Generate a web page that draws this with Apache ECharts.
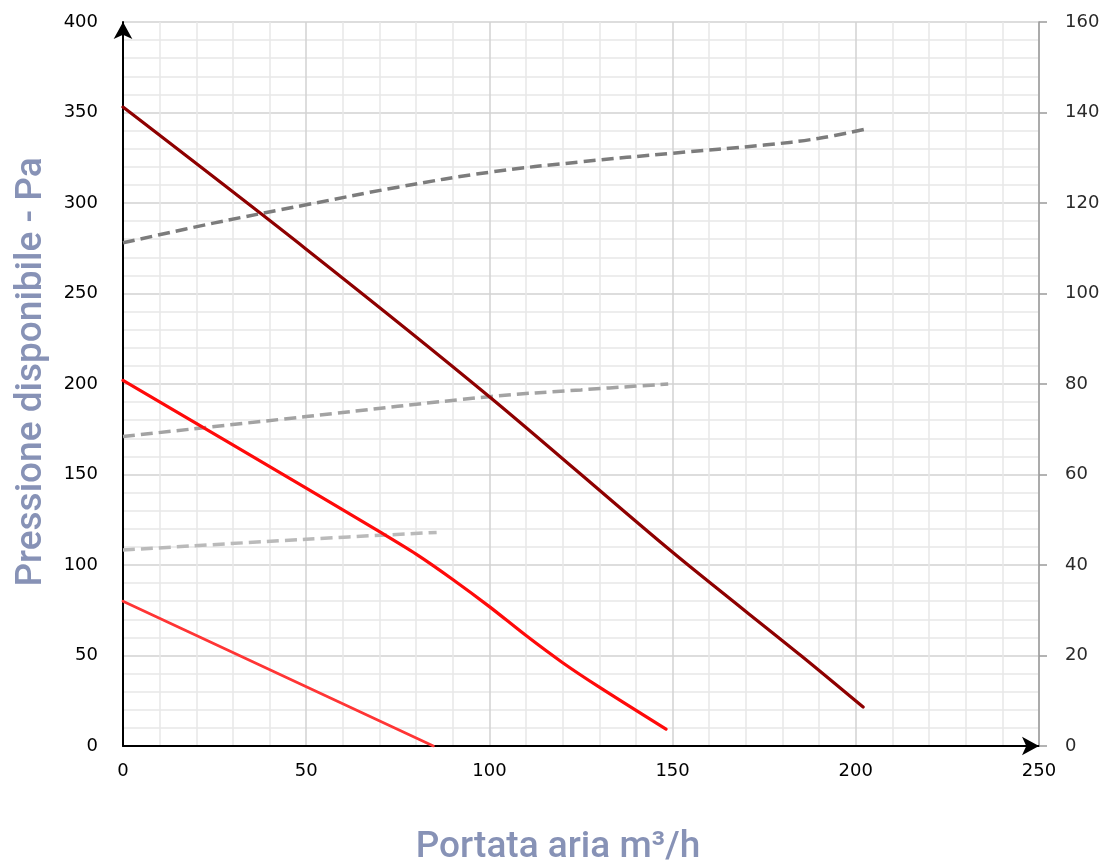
<!DOCTYPE html>
<html>
<head>
<meta charset="utf-8">
<script src="https://cdn.jsdelivr.net/npm/echarts@6/dist/echarts.min.js"></script>
<style>
html,body{margin:0;padding:0;background:#fff;}
#chart{width:1104px;height:863px;}
</style>
</head>
<body>
<div id="chart"></div>
<script>
// ---- data ----
var darkRedX = [0, 50, 100, 150, 185, 202];
var darkRedY = [353, 274.5, 193, 107, 50, 21.5];
var redX = [0, 50, 70, 80, 90, 100, 110, 120, 130, 148.2];
var redY = [202, 142.5, 118.4, 106, 92, 77, 61, 46, 32.5, 9.3];
var lightRedX = [0, 84.7];
var lightRedY = [80, 0];
var darkGrayX = [0, 25, 50, 75, 100, 125, 150, 175, 190, 203];
var darkGrayY = [111.2, 115.6, 119.6, 123.5, 126.8, 129.1, 131.0, 132.8, 134.3, 136.4];
var midGrayX = [0, 50, 100, 125, 148.8];
var midGrayY = [68.4, 72.8, 77.2, 78.7, 80.0];
var lightGrayX = [0, 50, 85.6];
var lightGrayY = [43.3, 45.7, 47.2];

function pairs(xs, ys) { return xs.map(function (x, i) { return [x, ys[i]]; }); }

var chart = echarts.init(document.getElementById('chart'));
var labelFont = 'DejaVu Sans';
var nameColor = '#8792b6';

function solid(name, xs, ys, color, width) {
  return {
    name: name, type: 'line', yAxisIndex: 0, data: pairs(xs, ys),
    showSymbol: false, smooth: 0.3, z: 5,
    lineStyle: { color: color, width: width, cap: 'round' }
  };
}
function dashed(name, xs, ys, color, width) {
  return {
    name: name, type: 'line', yAxisIndex: 1, data: pairs(xs, ys),
    showSymbol: false, smooth: 0.4, z: 4,
    lineStyle: { color: color, width: width, type: [12, 6] }
  };
}

chart.setOption({
  animation: false,
  backgroundColor: '#ffffff',
  grid: { left: 123, right: 65, top: 22, bottom: 117, containLabel: false, outerBoundsMode: 'none' },
  xAxis: {
    type: 'value', min: 0, max: 250, interval: 50,
    name: 'Portata aria m³/h', nameLocation: 'middle', nameGap: 83,
    nameTextStyle: { fontFamily: 'Roboto', fontSize: 37, fontWeight: 500, color: nameColor, padding: [0, 46, 0, 0] },
    axisLine: { show: true, lineStyle: { color: '#000', width: 2 }, symbol: ['none', 'arrow'], symbolSize: [14, 17] },
    axisTick: { show: false },
    axisLabel: { fontFamily: labelFont, fontSize: 18, color: '#000', margin: 16 },
    splitLine: { show: true, lineStyle: { color: '#d2d2d2', width: 1.5 } },
    minorTick: { show: false, splitNumber: 5 },
    minorSplitLine: { show: true, lineStyle: { color: '#e8e8e8', width: 1.5 } }
  },
  yAxis: [{
    type: 'value', min: 0, max: 400, interval: 50, position: 'left',
    name: 'Pressione disponibile - Pa', nameLocation: 'middle', nameGap: 73, nameRotate: 90,
    nameTextStyle: { fontFamily: 'Roboto', fontSize: 37, fontWeight: 500, color: nameColor, padding: [0, 0, 0, 24] },
    axisLine: { show: true, lineStyle: { color: '#000', width: 2 }, symbol: ['none', 'arrow'], symbolSize: [14, 17] },
    axisTick: { show: false },
    axisLabel: { fontFamily: labelFont, fontSize: 18, color: '#000', margin: 25 },
    splitLine: { show: true, lineStyle: { color: '#d2d2d2', width: 1.5 } },
    minorTick: { show: false, splitNumber: 5 },
    minorSplitLine: { show: true, lineStyle: { color: '#e8e8e8', width: 1.5 } }
  }, {
    type: 'value', min: 0, max: 160, interval: 20, position: 'right',
    axisLine: { show: true, lineStyle: { color: '#9a9a9a', width: 1.5 } },
    axisTick: { show: true, length: 8, lineStyle: { color: '#9a9a9a', width: 1.5 } },
    axisLabel: { fontFamily: labelFont, fontSize: 18, color: '#2a2a2a', margin: 26 },
    splitLine: { show: false }
  }],
  series: [
    dashed('Potenza 3', darkGrayX, darkGrayY, '#7c7c7c', 3.5),
    dashed('Potenza 2', midGrayX, midGrayY, '#a3a3a3', 3.5),
    dashed('Potenza 1', lightGrayX, lightGrayY, '#bababa', 3.5),
    solid('Velocità 3', darkRedX, darkRedY, '#8e0000', 3.2),
    solid('Velocità 2', redX, redY, '#ff0a0a', 3.2),
    solid('Velocità 1', lightRedX, lightRedY, '#ff3535', 2.8)
  ]
});
</script>
</body>
</html>
